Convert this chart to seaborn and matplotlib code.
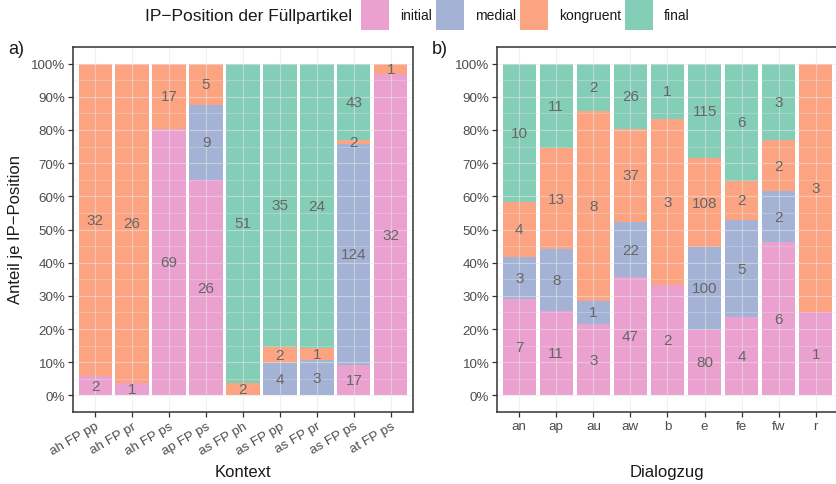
import numpy as np
import pandas as pd
import matplotlib
matplotlib.use("Agg")
import matplotlib.pyplot as plt
import seaborn as sns
from matplotlib.ticker import MultipleLocator, PercentFormatter
from matplotlib.patches import Patch

# IP positions of the filler particles (stacked bottom to top)
positions = ["initial", "medial", "kongruent", "final"]
palette = {"initial": "#E78AC3", "medial": "#8DA0CB",
           "kongruent": "#FC8D62", "final": "#66C2A5"}

# a) counts per context
kontext = ["ah FP pp", "ah FP pr", "ah FP ps", "ap FP ps", "as FP ph",
           "as FP pp", "as FP pr", "as FP ps", "at FP ps"]
kontext_initial = [2, 1, 69, 26, 0, 0, 0, 17, 32]
kontext_medial = [0, 0, 0, 9, 0, 4, 3, 124, 0]
kontext_kongruent = [32, 26, 17, 5, 2, 2, 1, 2, 1]
kontext_final = [0, 0, 0, 0, 51, 35, 24, 43, 0]

# b) counts per dialogue move
dialogzug = ["an", "ap", "au", "aw", "b", "e", "fe", "fw", "r"]
dialog_initial = [7, 11, 3, 47, 2, 80, 4, 6, 1]
dialog_medial = [3, 8, 1, 22, 0, 100, 5, 2, 0]
dialog_kongruent = [4, 13, 8, 37, 3, 108, 2, 2, 3]
dialog_final = [10, 11, 2, 26, 1, 115, 6, 3, 0]

y_ticks = np.arange(0, 1.01, 0.1)

BAR_ALPHA = 0.8
TEXT_DARK = "#1a1a1a"
TICK_COLOR = "#4D4D4D"
LABEL_GRAY = "#666666"


def long_table(cats, series):
    rows = []
    for pos, vals in zip(positions, series):
        for c, v in zip(cats, vals):
            rows.append({"cat": c, "pos": pos, "n": v})
    return pd.DataFrame(rows)


sns.set_theme(style="white")
plt.rcParams["font.family"] = ["Liberation Sans", "DejaVu Sans"]

fig = plt.figure(figsize=(8.37, 4.85), dpi=100)
W, H = 837, 485


def px_axes(left, top, right, bottom):
    return fig.add_axes([left / W, 1 - bottom / H, (right - left) / W, (bottom - top) / H])


ax_a = px_axes(73, 48, 413, 413)
ax_b = px_axes(497, 48, 838, 413)

panels = [
    (ax_a, kontext, [kontext_initial, kontext_medial, kontext_kongruent, kontext_final]),
    (ax_b, dialogzug, [dialog_initial, dialog_medial, dialog_kongruent, dialog_final]),
]

for ax, cats, series in panels:
    df = long_table(cats, series)
    df["cat"] = pd.Categorical(df["cat"], categories=cats, ordered=True)
    df["x"] = df["cat"].cat.codes
    sns.histplot(data=df, x="x", hue="pos", weights="n", multiple="fill",
                 hue_order=positions[::-1], palette=palette, discrete=True,
                 shrink=0.9, alpha=BAR_ALPHA, linewidth=0, legend=False, ax=ax)
    # light grid lines run across the translucent bars
    ax.set_axisbelow(False)

    # count labels in the middle of each segment
    counts = np.array(series, dtype=float)
    totals = counts.sum(axis=0)
    shares = counts / totals
    tops = np.cumsum(shares, axis=0)
    for j in range(len(cats)):
        for i in range(len(positions)):
            if counts[i, j] > 0:
                mid = tops[i, j] - shares[i, j] / 2
                ax.text(j, mid, f"{int(counts[i, j])}", ha="center", va="center",
                        fontsize=11, color=LABEL_GRAY, zorder=4)

    ax.set_xlim(-0.6, len(cats) - 0.4)
    ax.set_ylim(-0.05, 1.05)
    ax.set_xticks(range(len(cats)))
    ax.set_yticks(y_ticks)
    ax.yaxis.set_minor_locator(MultipleLocator(0.05))
    ax.yaxis.set_major_formatter(PercentFormatter(1.0, decimals=0))
    ax.grid(True, which="major", color="#E6E6E6", linewidth=0.8, alpha=0.55)
    ax.grid(True, which="minor", axis="y", color="#E6E6E6", linewidth=0.45, alpha=0.55)
    ax.tick_params(axis="both", which="major", length=3.5, width=0.9, color="#333333",
                   labelcolor=TICK_COLOR, labelsize=9.6, pad=2,
                   bottom=True, left=True)
    ax.tick_params(axis="both", which="minor", length=0)
    for sp in ax.spines.values():
        sp.set_color("#333333")
        sp.set_linewidth(1.1)
        sp.set_zorder(5)
    ax.set_xlabel("")
    ax.set_ylabel("")

ax_a.set_xticklabels(kontext, rotation=30, ha="right", va="top", rotation_mode="anchor")
ax_b.set_xticklabels(dialogzug)

# axis titles and panel tags
fig.text(243 / W, 1 - 473 / H, "Kontext", ha="center", va="center", fontsize=12, color=TEXT_DARK)
fig.text(667 / W, 1 - 473 / H, "Dialogzug", ha="center", va="center", fontsize=12, color=TEXT_DARK)
fig.text(16 / W, 1 - 230 / H, "Anteil je IP\u2212Position", ha="center", va="center",
         rotation=90, fontsize=12, color=TEXT_DARK)
fig.text(8 / W, 1 - 50 / H, "a)", ha="left", va="center", fontsize=13, color=TEXT_DARK)
fig.text(432 / W, 1 - 50 / H, "b)", ha="left", va="center", fontsize=13, color=TEXT_DARK)

# legend across the top
fig.text(352 / W, 1 - 16 / H, "IP\u2212Position der F\u00fcllpartikel", ha="right", va="center",
         fontsize=12.5, color=TEXT_DARK)
handles = [Patch(facecolor=palette[p], alpha=BAR_ALPHA, linewidth=0) for p in positions]
fig.legend(handles, positions, ncol=4, loc="center left",
           bbox_to_anchor=(361 / W, 1 - 16 / H), frameon=False, fontsize=10,
           handlelength=2.0, handleheight=2.9, handletextpad=0.8, columnspacing=0.3,
           borderpad=0, borderaxespad=0, labelcolor=TEXT_DARK)

fig.savefig("out.png", dpi=100)
